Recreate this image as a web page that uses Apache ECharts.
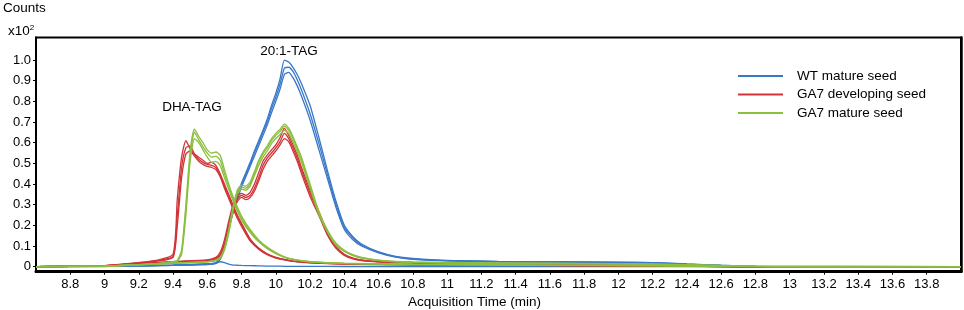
<!DOCTYPE html>
<html>
<head>
<meta charset="utf-8">
<script src="https://cdn.jsdelivr.net/npm/echarts@6/dist/echarts.min.js"></script>
<style>html,body{margin:0;padding:0;background:#fff}#c{width:964px;height:310px}</style>
</head>
<body>
<div id="c"></div>
<script>
// ---------- DATA ----------
const seriesNames = ['WT mature seed', 'GA7 developing seed', 'GA7 mature seed'];
const xTickLabels = [8.8, 9, 9.2, 9.4, 9.6, 9.8, 10, 10.2, 10.4, 10.6, 10.8, 11, 11.2, 11.4, 11.6, 11.8, 12, 12.2, 12.4, 12.6, 12.8, 13, 13.2, 13.4, 13.6, 13.8];
const yTickLabels = ['0', '0.1', '0.2', '0.3', '0.4', '0.5', '0.6', '0.7', '0.8', '0.9', '1.0'];

// time grid for 20:1-TAG traces (min)
const times201 = [8.6, 9.0, 9.2, 9.4, 9.6, 9.65, 9.675, 9.7, 9.725, 9.75, 9.775, 9.8, 9.825, 9.85, 9.875, 9.9, 9.925, 9.95, 9.975, 10.0, 10.025, 10.05, 10.075, 10.1, 10.125, 10.15, 10.2, 10.25, 10.3, 10.35, 10.4, 10.45, 10.5, 10.6, 10.7, 10.8, 11.0, 11.3, 11.6, 12.0, 12.2, 12.4, 12.6, 12.8, 13.0, 14.0];
// time grid for DHA-TAG traces (min)
const timesDHA = [8.6, 9.0, 9.1, 9.2, 9.3, 9.4, 9.425, 9.45, 9.475, 9.5, 9.525, 9.55, 9.575, 9.6, 9.625, 9.65, 9.675, 9.7, 9.725, 9.75, 9.775, 9.8, 9.85, 9.9, 9.95, 10.0, 10.05, 10.1, 10.2, 10.4, 10.8, 11.5, 12.2, 12.6, 14.0];

// WT mature seed (x10^2 counts)
const wt201_r1 = [0,0.003,0.005,0.008,0.014,0.02,0.045,0.11,0.2,0.28,0.345,0.405,0.455,0.505,0.56,0.61,0.66,0.715,0.78,0.84,0.91,1.0,0.99,0.965,0.93,0.885,0.78,0.63,0.47,0.32,0.2,0.145,0.11,0.072,0.05,0.04,0.03,0.026,0.024,0.022,0.02,0.013,0.007,0.002,0,0];
const wt201_r2 = [0,0.003,0.005,0.008,0.013,0.018,0.04,0.1,0.19,0.27,0.335,0.395,0.445,0.495,0.55,0.6,0.65,0.7,0.765,0.82,0.885,0.96,0.965,0.945,0.905,0.855,0.74,0.6,0.45,0.305,0.19,0.14,0.105,0.07,0.048,0.038,0.029,0.025,0.023,0.021,0.019,0.012,0.006,0.002,0,0];
const wt201_r3 = [0,0.002,0.004,0.007,0.012,0.016,0.035,0.09,0.18,0.26,0.325,0.385,0.435,0.485,0.535,0.585,0.635,0.685,0.745,0.8,0.86,0.93,0.94,0.915,0.875,0.825,0.71,0.57,0.43,0.29,0.18,0.13,0.1,0.067,0.046,0.036,0.028,0.024,0.022,0.02,0.018,0.011,0.005,0.001,0,0];
const wtDHA_r1 = [0,0.001,0.002,0.003,0.004,0.006,0.006,0.007,0.007,0.008,0.008,0.009,0.009,0.01,0.012,0.016,0.024,0.02,0.012,0.008,0.007,0.006,0.005,0.004,0.003,0.003,0.002,0.002,0.002,0.001,0.001,0,0,0,0];

// GA7 developing seed
const devDHA_r1 = [0,0.005,0.012,0.02,0.03,0.06,0.33,0.53,0.61,0.57,0.545,0.53,0.515,0.5,0.505,0.49,0.45,0.4,0.35,0.3,0.25,0.21,0.135,0.09,0.062,0.045,0.035,0.027,0.02,0.014,0.01,0.007,0.004,0.001,0];
const devDHA_r2 = [0,0.005,0.011,0.018,0.028,0.05,0.25,0.48,0.575,0.585,0.545,0.52,0.505,0.495,0.49,0.48,0.445,0.39,0.34,0.29,0.245,0.205,0.13,0.088,0.06,0.044,0.034,0.027,0.02,0.014,0.01,0.007,0.004,0.001,0];
const devDHA_r3 = [0,0.004,0.01,0.017,0.026,0.045,0.2,0.43,0.545,0.56,0.535,0.51,0.495,0.485,0.48,0.47,0.435,0.38,0.33,0.28,0.235,0.195,0.125,0.085,0.058,0.042,0.033,0.026,0.019,0.013,0.009,0.006,0.003,0.001,0];
const dev201_r1 = [0,0.005,0.015,0.025,0.033,0.045,0.07,0.13,0.22,0.3,0.34,0.355,0.345,0.36,0.4,0.455,0.51,0.54,0.565,0.59,0.625,0.67,0.635,0.59,0.54,0.48,0.37,0.27,0.17,0.1,0.06,0.042,0.033,0.025,0.022,0.02,0.018,0.016,0.015,0.013,0.012,0.009,0.002,0,0,0];
const dev201_r2 = [0,0.005,0.014,0.024,0.031,0.04,0.06,0.11,0.2,0.28,0.325,0.345,0.335,0.345,0.38,0.43,0.49,0.525,0.55,0.575,0.605,0.645,0.62,0.575,0.525,0.465,0.355,0.26,0.16,0.095,0.057,0.04,0.031,0.024,0.021,0.019,0.017,0.015,0.014,0.012,0.011,0.008,0.002,0,0,0];
const dev201_r3 = [0,0.004,0.013,0.022,0.03,0.038,0.055,0.1,0.185,0.265,0.315,0.335,0.325,0.335,0.365,0.415,0.47,0.51,0.535,0.56,0.59,0.62,0.605,0.56,0.51,0.45,0.34,0.25,0.155,0.09,0.055,0.038,0.03,0.023,0.02,0.018,0.016,0.014,0.013,0.011,0.01,0.007,0.002,0,0,0];

// GA7 mature seed
const matDHA_r1 = [0,0.003,0.006,0.01,0.015,0.025,0.03,0.08,0.3,0.56,0.665,0.63,0.6,0.565,0.55,0.555,0.54,0.47,0.4,0.34,0.29,0.245,0.18,0.13,0.095,0.068,0.048,0.037,0.025,0.017,0.012,0.008,0.005,0.002,0];
const matDHA_r2 = [0,0.003,0.006,0.01,0.014,0.023,0.028,0.07,0.28,0.54,0.65,0.615,0.58,0.55,0.53,0.535,0.515,0.45,0.39,0.33,0.28,0.235,0.172,0.125,0.09,0.065,0.046,0.035,0.024,0.016,0.011,0.008,0.005,0.002,0];
const matDHA_r3 = [0,0.003,0.005,0.009,0.013,0.021,0.026,0.06,0.25,0.51,0.62,0.6,0.565,0.53,0.505,0.51,0.49,0.43,0.375,0.32,0.27,0.225,0.165,0.12,0.087,0.063,0.045,0.034,0.023,0.015,0.011,0.007,0.004,0.002,0];
const mat201_r1 = [0,0.003,0.01,0.018,0.025,0.032,0.045,0.09,0.18,0.29,0.37,0.395,0.39,0.41,0.46,0.515,0.555,0.585,0.62,0.645,0.665,0.69,0.67,0.63,0.58,0.53,0.4,0.27,0.18,0.115,0.08,0.058,0.045,0.032,0.026,0.023,0.02,0.018,0.017,0.015,0.013,0.01,0.006,0.002,0,0];
const mat201_r2 = [0,0.003,0.01,0.017,0.024,0.03,0.042,0.085,0.17,0.28,0.36,0.385,0.38,0.4,0.45,0.505,0.545,0.575,0.61,0.635,0.655,0.68,0.66,0.62,0.57,0.52,0.39,0.265,0.175,0.11,0.077,0.056,0.044,0.031,0.025,0.022,0.019,0.017,0.016,0.014,0.012,0.009,0.005,0.002,0,0];
const mat201_r3 = [0,0.003,0.009,0.016,0.023,0.029,0.04,0.08,0.16,0.27,0.35,0.375,0.37,0.39,0.44,0.49,0.53,0.56,0.595,0.62,0.64,0.66,0.645,0.605,0.555,0.505,0.38,0.255,0.17,0.105,0.074,0.054,0.042,0.03,0.024,0.021,0.018,0.016,0.015,0.013,0.011,0.008,0.005,0.002,0,0];

// ---------- CHART ----------
const COLORS = ['#3a78c8', '#d03438', '#8cbf40'];
const FONT = 'Liberation Sans, Arial, sans-serif';

function trace(idx, times, vals) {
  const c = COLORS[idx];
  return {
    type: 'line', name: seriesNames[idx],
    data: times.map((t, i) => [t, vals[i]]),
    showSymbol: false, symbol: 'none', smooth: 0.2,
    lineStyle: { color: c, width: 1.3 },
    itemStyle: { color: c },
    emphasis: { disabled: true },
    animation: false
  };
}

const series = [
  trace(0, timesDHA, wtDHA_r1),
  trace(0, times201, wt201_r3), trace(0, times201, wt201_r2), trace(0, times201, wt201_r1),
  trace(1, timesDHA, devDHA_r3), trace(1, timesDHA, devDHA_r2), trace(1, timesDHA, devDHA_r1),
  trace(1, times201, dev201_r3), trace(1, times201, dev201_r2), trace(1, times201, dev201_r1),
  trace(2, timesDHA, matDHA_r3), trace(2, timesDHA, matDHA_r2), trace(2, timesDHA, matDHA_r1),
  trace(2, times201, mat201_r3), trace(2, times201, mat201_r2), trace(2, times201, mat201_r1)
];

const yVals = yTickLabels.map(Number);
const Y_MIN = -0.0242, Y_MAX = 1.109;

const chart = echarts.init(document.getElementById('c'), null, { renderer: 'canvas' });
chart.setOption({
  animation: false,
  backgroundColor: '#fff',
  textStyle: { fontFamily: FONT },
  grid: { left: 36, right: 3, top: 37.5, bottom: 38.3, containLabel: false, outerBoundsMode: 'none',
    show: true, borderColor: '#000', borderWidth: 2, backgroundColor: 'transparent' },
  legend: {
    data: seriesNames, orient: 'vertical', left: 733, top: 64,
    icon: 'rect', itemWidth: 45, itemHeight: 2, itemGap: 4.5,
    textStyle: { fontFamily: FONT, fontSize: 13.5, color: '#000', lineHeight: 14, padding: [0, 0, 0, 9] },
    selectedMode: false
  },
  xAxis: {
    type: 'value', min: 8.6, max: 14.0, interval: 0.2,
    name: 'Acquisition Time (min)', nameLocation: 'middle', nameGap: 22,
    nameTextStyle: { fontFamily: FONT, fontSize: 13.5, color: '#000', padding: [0, 48, 0, 0] },
    axisLine: { show: true, onZero: false, lineStyle: { color: '#000', width: 3 } },
    axisTick: { show: true, length: 3, lineStyle: { color: '#000', width: 1 }, customValues: xTickLabels },
    axisLabel: { show: true, margin: 6, fontSize: 13, color: '#000', fontFamily: FONT, customValues: xTickLabels, formatter: v => String(v) },
    splitLine: { show: false }
  },
  yAxis: [{
    type: 'value', min: Y_MIN, max: Y_MAX,
    axisLine: { show: true, onZero: false, lineStyle: { color: '#000', width: 2 } },
    axisTick: { show: true, length: 3, lineStyle: { color: '#000', width: 1 }, customValues: yVals },
    axisLabel: { show: true, margin: 5, fontSize: 13, color: '#000', fontFamily: FONT, customValues: yVals,
      formatter: v => { const i = yVals.findIndex(y => Math.abs(y - v) < 1e-9); return i >= 0 ? yTickLabels[i] : ''; } },
    splitLine: { show: false }
  }, {
    type: 'value', min: Y_MIN, max: Y_MAX, position: 'right',
    axisLine: { show: true, onZero: false, lineStyle: { color: '#000', width: 2.5 } },
    axisTick: { show: false }, axisLabel: { show: false }, splitLine: { show: false }
  }],
  graphic: [
    { type: 'text', left: 3, top: 1, style: { text: 'Counts', font: '13.5px ' + FONT, fill: '#000' } },
    { type: 'text', left: 8, top: 24, style: { text: '{a|x10}{b|2}', fill: '#000',
      rich: { a: { fontSize: 13.5, fontFamily: FONT, fill: '#000' }, b: { fontSize: 8, fontFamily: FONT, fill: '#000', verticalAlign: 'top', padding: [0, 0, 6, 0] } } } },
    { type: 'text', x: 289, y: 51, style: { text: '20:1-TAG', font: '13.5px ' + FONT, fill: '#000', align: 'center', verticalAlign: 'middle' } },
    { type: 'text', x: 192, y: 107, style: { text: 'DHA-TAG', font: '13.5px ' + FONT, fill: '#000', align: 'center', verticalAlign: 'middle' } }
  ],
  series: series
});
</script>
</body>
</html>
